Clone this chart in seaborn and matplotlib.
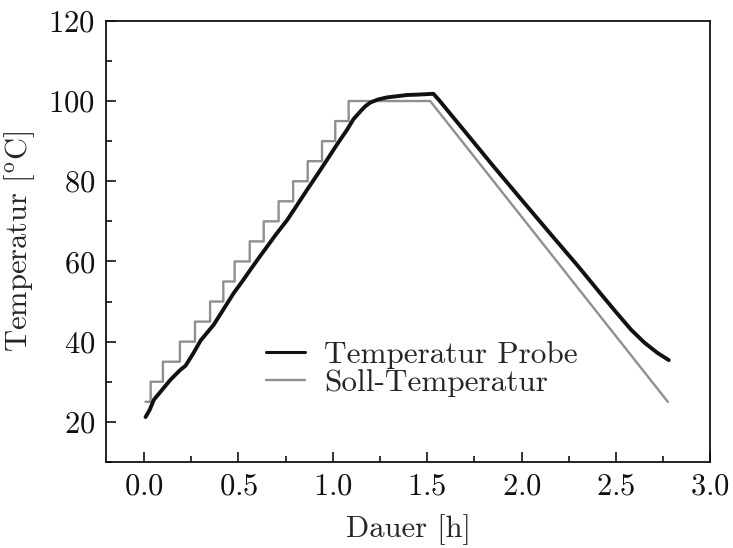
import numpy as np
import pandas as pd
import matplotlib
matplotlib.use("Agg")
import matplotlib.pyplot as plt
from matplotlib.ticker import MultipleLocator
import seaborn as sns

# --- Soll-Temperatur: Stufen beim Aufheizen, dann Rampe nach unten ---
soll_stufe_start = [0.008, 0.035, 0.100, 0.190, 0.270, 0.350, 0.420, 0.480,
                    0.560, 0.634, 0.713, 0.790, 0.867, 0.943, 1.013, 1.084]
soll_stufe_wert = [25, 30, 35, 40, 45, 50, 55, 60, 65, 70, 75, 80, 85, 90, 95, 100]
soll_plateau_ende = 1.516
soll_ende_zeit = 2.775
soll_ende_wert = 25

# --- gemessene Temperatur der Probe ---
probe_zeit = [0.008, 0.030, 0.052, 0.096, 0.140, 0.193, 0.220, 0.260, 0.300,
              0.369, 0.420, 0.475, 0.520, 0.563, 0.610, 0.652, 0.700, 0.758,
              0.810, 0.863, 0.920, 0.969, 1.020, 1.075, 1.110, 1.146, 1.170,
              1.198, 1.240, 1.287, 1.393, 1.450, 1.533, 1.560, 1.700, 1.850,
              2.000, 2.151, 2.300, 2.415, 2.500, 2.580, 2.650, 2.720, 2.780]
probe_temp = [21.2, 23.0, 25.5, 28.0, 30.5, 33.0, 34.0, 37.0, 40.3,
              44.2, 48.0, 52.1, 55.0, 57.9, 61.0, 63.7, 66.8, 70.3,
              74.0, 77.8, 81.8, 85.3, 89.0, 92.8, 95.5, 97.4, 98.6,
              99.6, 100.4, 100.9, 101.5, 101.6, 101.8, 100.4, 92.4, 83.8,
              75.4, 67.0, 58.8, 52.2, 47.4, 43.0, 39.8, 37.2, 35.4]

# Stufen als Linienzug aufbauen (Ecken der Treppe)
x_soll, y_soll = [], []
stufe_ende = soll_stufe_start[1:] + [soll_plateau_ende]
for t0, t1, w in zip(soll_stufe_start, stufe_ende, soll_stufe_wert):
    x_soll += [t0, t1]
    y_soll += [w, w]
x_soll.append(soll_ende_zeit)
y_soll.append(soll_ende_wert)

df_soll = pd.DataFrame({"t": x_soll, "T": y_soll})
df_probe = pd.DataFrame({"t": probe_zeit, "T": probe_temp})

sns.set_style("ticks")
plt.rcParams["font.family"] = ["cmr10", "DejaVu Serif"]
plt.rcParams["mathtext.fontset"] = "cm"
plt.rcParams["axes.formatter.use_mathtext"] = True

fig, ax = plt.subplots(figsize=(7.33, 5.48), dpi=100)
fig.subplots_adjust(left=0.145, right=0.969, top=0.962, bottom=0.157)

sns.lineplot(data=df_soll, x="t", y="T", sort=False, estimator=None,
             color="#8f8f8f", linewidth=1.7, ax=ax, label="Soll-Temperatur")
sns.lineplot(data=df_probe, x="t", y="T", sort=False, estimator=None,
             color="#111111", linewidth=2.8, ax=ax, label="Temperatur Probe")

ax.set_xlim(-0.2, 3.0)
ax.set_ylim(10, 120)
ax.xaxis.set_major_locator(MultipleLocator(0.5))
ax.xaxis.set_minor_locator(MultipleLocator(0.25))
ax.yaxis.set_major_locator(MultipleLocator(20))
ax.yaxis.set_minor_locator(MultipleLocator(10))
ax.tick_params(which="both", direction="in", top=False, right=False,
               width=1.2, colors="#111111", labelsize=22)
ax.tick_params(which="major", length=7, pad=8)
ax.tick_params(which="minor", length=4)
for sp in ax.spines.values():
    sp.set_linewidth(1.3)
    sp.set_color("#111111")

ax.set_xlabel("Dauer [h]", fontsize=22, labelpad=10)
ax.set_ylabel(r"Temperatur [$^{\rm o}$C]", fontsize=22, labelpad=8)

handles, labels = ax.get_legend_handles_labels()
leg = ax.legend(handles[::-1], labels[::-1], loc="center left",
                bbox_to_anchor=(0.265, 0.211), frameon=False, fontsize=22.5,
                handlelength=1.25, handletextpad=0.6, labelspacing=0.0,
                borderpad=0, borderaxespad=0)
leg.get_lines()[0].set_linewidth(2.2)

fig.savefig("out.png", dpi=100)
